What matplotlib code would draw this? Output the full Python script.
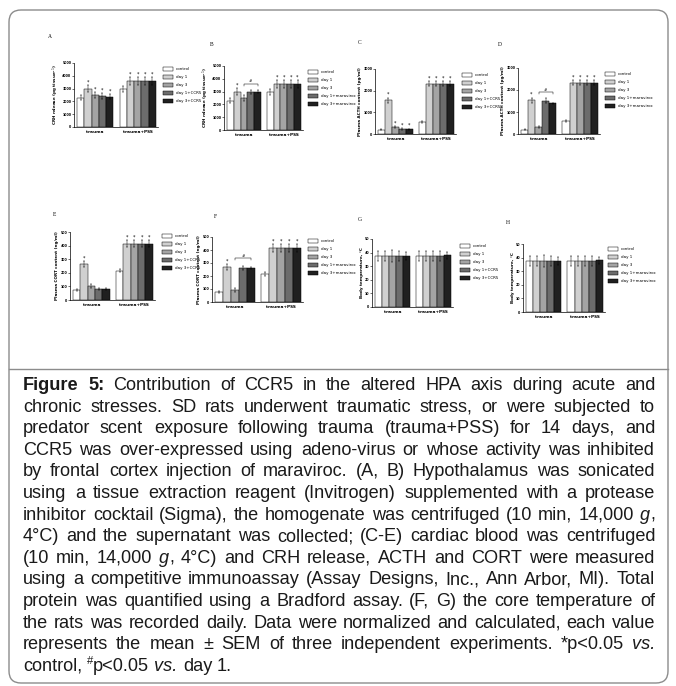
import re
import matplotlib
matplotlib.use('Agg')
import matplotlib.pyplot as plt
from matplotlib.patches import Patch, FancyBboxPatch
from matplotlib.lines import Line2D
from matplotlib.transforms import IdentityTransform

W, H = 676, 686
fig = plt.figure(figsize=(W / 100, H / 100), dpi=100)

groups = ['trauma', 'trauma+PSS']
names_ccr5 = ['control', 'day 1', 'day 3', 'day 1+CCR5', 'day 3+CCR5']
names_mara = ['control', 'day 1', 'day 3', 'day 1+maraviroc', 'day 3+maraviroc']
bar_colors = ['#ffffff', '#d0d0d0', '#a4a4a4', '#6c6c6c', '#202020']

# first five values = trauma, last five = trauma+PSS
crh_a = [2300, 3000, 2500, 2400, 2350, 2950, 3600, 3600, 3600, 3600]
crh_a_err = [220, 300, 220, 220, 200, 230, 280, 300, 280, 280]
crh_b = [2300, 3000, 2500, 3000, 3000, 2950, 3600, 3600, 3600, 3600]
crh_b_err = [220, 300, 220, 150, 130, 230, 280, 300, 280, 280]
acth_c = [200, 1550, 320, 230, 220, 570, 2330, 2330, 2330, 2330]
acth_c_err = [25, 130, 40, 30, 30, 40, 110, 110, 110, 110]
acth_d = [200, 1530, 330, 1520, 1400, 580, 2330, 2330, 2330, 2330]
acth_d_err = [25, 120, 40, 110, 30, 40, 110, 110, 110, 110]
cort_e = [75, 265, 100, 78, 80, 215, 415, 415, 415, 415]
cort_e_err = [8, 22, 15, 8, 6, 12, 28, 28, 28, 28]
cort_f = [75, 270, 95, 262, 265, 215, 415, 415, 415, 415]
cort_f_err = [8, 22, 15, 12, 8, 12, 28, 28, 28, 28]
temp_g = [37.5, 37.5, 37.5, 37.5, 37.5, 37.5, 37.5, 37.5, 37.5, 38]
temp_g_err = [4, 4, 4.5, 3.5, 3, 3.5, 3.5, 3.5, 3.5, 2.5]
temp_h = [37.5, 37.5, 37.5, 37.5, 37.5, 37.5, 37.5, 37.5, 37.5, 38]
temp_h_err = [4, 4, 4.5, 3.5, 3, 3.5, 3.5, 3.5, 3.5, 2.5]

stars_a = [1, 2, 3, 4, 6, 7, 8, 9]
stars_b = [1, 6, 7, 8, 9]
stars_c = [1, 2, 3, 4, 6, 7, 8, 9]
stars_d = [1, 6, 7, 8, 9]
stars_e = [1, 6, 7, 8, 9]
stars_f = [1, 6, 7, 8, 9]

caption = [
    "**Figure 5:** Contribution of CCR5 in the altered HPA axis during acute and",
    "chronic stresses. SD rats underwent traumatic stress, or were subjected to",
    "predator scent exposure following trauma (trauma+PSS) for 14 days, and",
    "CCR5 was over-expressed using adeno-virus or whose activity was inhibited",
    "by frontal cortex injection of maraviroc. (A, B) Hypothalamus was sonicated",
    "using a tissue extraction reagent (Invitrogen) supplemented with a protease",
    "inhibitor cocktail (Sigma), the homogenate was centrifuged (10 min, 14,000 _g_,",
    "4°C) and the supernatant was collected; (C-E) cardiac blood was centrifuged",
    "(10 min, 14,000 _g_, 4°C) and CRH release, ACTH and CORT were measured",
    "using a competitive immunoassay (Assay Designs, Inc., Ann Arbor, MI). Total",
    "protein was quantified using a Bradford assay. (F, G) the core temperature of",
    "the rats was recorded daily. Data were normalized and calculated, each value",
    "represents the mean ± SEM of three independent experiments. *p<0.05 _vs._",
    "control, ^#p<0.05 _vs._ day 1.",
]


def fx(x):
    return x / W


def fy(y):
    return 1 - y / H


def panel(rect, letter, letter_xy, vals, errs, names, ylabel, ymax, ystep,
          stars, legend_xy, bracket=None):
    L, R, T, B = rect
    ax = fig.add_axes([fx(L), fy(B), (R - L) / W, (B - T) / H])
    gap = 0.85
    xs = [g * (5 + gap) + i for g in range(2) for i in range(5)]
    ax.bar(xs, vals, width=1, color=bar_colors * 2, edgecolor='black', linewidth=0.35)
    ax.errorbar(xs, vals, yerr=errs, fmt='none', ecolor='black',
                elinewidth=0.35, capsize=0.9, capthick=0.35)
    for i in stars:
        ax.text(xs[i], vals[i] + errs[i] + ymax * 0.01, '*', ha='center',
                va='bottom', fontsize=3.5)
    if bracket is not None:
        i0, i1, by = bracket
        h = ymax * 0.03
        ax.plot([xs[i0], xs[i0], xs[i1], xs[i1]], [by - h, by, by, by - h],
                color='black', lw=0.35)
        ax.text((xs[i0] + xs[i1]) / 2, by + ymax * 0.01, '#', ha='center',
                va='bottom', fontsize=2.8)
    ax.set_xlim(-0.92, 5 + gap + 4 + 0.8)
    ax.set_ylim(0, ymax)
    ax.set_yticks(range(0, int(ymax) + 1, ystep))
    ax.set_xticks([2, 5 + gap + 2])
    ax.set_xticklabels(groups, fontsize=3.1, fontweight='bold')
    ax.tick_params(axis='x', length=0, pad=2)
    ax.tick_params(axis='y', length=1.3, width=0.4, pad=0.6, labelsize=2.3)
    for lab in ax.get_yticklabels():
        lab.set_fontweight('bold')
    ax.set_ylabel(ylabel, fontsize=3.0, fontweight='bold', labelpad=0.8)
    for s in ['top', 'right']:
        ax.spines[s].set_visible(False)
    for s in ['left', 'bottom']:
        ax.spines[s].set_linewidth(0.5)
    handles = [Patch(facecolor=c, edgecolor='black', linewidth=0.35) for c in bar_colors]
    ax.legend(handles, names, loc='upper left', frameon=False, fontsize=2.9,
              bbox_to_anchor=(fx(legend_xy[0]), fy(legend_xy[1])),
              bbox_transform=fig.transFigure, borderaxespad=0, borderpad=0,
              handlelength=2.6, handleheight=1.1, labelspacing=0.9,
              handletextpad=0.6)
    fig.text(fx(letter_xy[0]), fy(letter_xy[1]), letter, fontsize=4,
             family='Liberation Serif', ha='center', va='center')
    return ax


crh_lab = r'CRH release (pg tissue$^{-1}$)'
acth_lab = 'Plasma ACTH content (pg/ml)'
cort_lab = 'Plasma CORT content (ng/ml)'
temp_lab = 'Body temperature, °C'

panel((74, 158, 63, 127), 'A', (50, 37), crh_a, crh_a_err, names_ccr5, crh_lab,
      5000, 1000, stars_a, (163, 67))
panel((224, 303, 66, 130), 'B', (212, 44), crh_b, crh_b_err, names_mara, crh_lab,
      5000, 1000, stars_b, (308, 70), bracket=(2, 4, 3620))
panel((375, 456, 69, 134), 'C', (360, 43), acth_c, acth_c_err, names_ccr5, acth_lab,
      3000, 1000, stars_c, (462, 73))
panel((518, 600, 68, 134), 'D', (500, 45), acth_d, acth_d_err, names_mara, acth_lab,
      3000, 1000, stars_d, (605, 72), bracket=(2, 4, 1900))
panel((70, 155, 232, 300), 'E', (55, 215), cort_e, cort_e_err, names_ccr5, cort_lab,
      500, 100, stars_e, (162, 234))
panel((212, 303, 237, 302), 'F', (215, 216), cort_f, cort_f_err, names_mara, cort_lab,
      500, 100, stars_f, (308, 239), bracket=(2, 4, 335))
panel((372, 453, 239, 307), 'G', (360, 220), temp_g, temp_g_err, names_ccr5, temp_lab,
      50, 10, [], (460, 244))
panel((523, 605, 244, 312), 'H', (508, 222), temp_h, temp_h_err, names_mara, temp_lab,
      50, 10, [], (608, 247))

# frame and divider
fig.add_artist(FancyBboxPatch((9, H - 683), 659, 673,
                              boxstyle='round,pad=0,rounding_size=12',
                              transform=IdentityTransform(), fill=False,
                              ec='#8c8c8c', lw=1))
fig.add_artist(Line2D([fx(9), fx(668)], [fy(369), fy(369)],
                      transform=fig.transFigure, color='#8c8c8c', lw=1))


# justified caption
def parse(line):
    segs = []
    for part in re.split(r'(\*\*.+?\*\*|_.+?_|\^.)', line):
        if not part:
            continue
        if part.startswith('**') and part.endswith('**') and len(part) > 4:
            segs.append((part[2:-2], 'bold'))
        elif part.startswith('_') and part.endswith('_') and len(part) > 2:
            segs.append((part[1:-1], 'italic'))
        elif part.startswith('^') and len(part) == 2:
            segs.append((part[1], 'sup'))
        else:
            segs.append((part, 'normal'))
    words, cur = [], []
    for text, st in segs:
        for k, p in enumerate(text.split(' ')):
            if k > 0 and cur:
                words.append(cur)
                cur = []
            if p:
                cur.append((p, st))
    if cur:
        words.append(cur)
    return words


def make_seg(text, st, fs):
    kw = dict(fontsize=fs, family='Liberation Sans', va='baseline', ha='left',
              color='#1a1a1a')
    if st == 'bold':
        kw['weight'] = 'bold'
    if st == 'italic':
        kw['style'] = 'italic'
    if st == 'sup':
        kw['fontsize'] = fs * 0.62
    return fig.text(0, 0, text, **kw)


renderer = fig.canvas.get_renderer()
x_left, x_right = 23, 655
base0, step = 390, 21.6


def measure(fs):
    t1 = make_seg('a a', 'normal', fs)
    t2 = make_seg('aa', 'normal', fs)
    sp = t1.get_window_extent(renderer).width - t2.get_window_extent(renderer).width
    t1.remove()
    t2.remove()
    rows = []
    for line in caption:
        items = []
        for w in parse(line):
            segs = []
            for text, st in w:
                t = make_seg(text, st, fs)
                segs.append((t, st, t.get_window_extent(renderer).width))
            items.append(segs)
        rows.append(items)
    return sp, rows


# pick the size at which the widest line just fills the column
sp0, rows0 = measure(10)
widest = max(sum(s[2] for segs in items for s in segs) + sp0 * (len(items) - 1)
             for items in rows0[:-1])
for items in rows0:
    for segs in items:
        for t, _, _ in segs:
            t.remove()
FS = 10 * (x_right - x_left) / widest * 0.99

space_w, rows = measure(FS)
for li, items in enumerate(rows):
    widths = [sum(s[2] for s in segs) for segs in items]
    if li == len(rows) - 1:
        gap = space_w
    else:
        gap = (x_right - x_left - sum(widths)) / (len(items) - 1)
    x = x_left
    yb = base0 + li * step
    for segs, wd in zip(items, widths):
        cx = x
        for t, st, sw in segs:
            yy = yb - (FS * 0.38 * 100 / 72 if st == 'sup' else 0)
            t.set_position((fx(round(cx)), fy(yy)))
            cx += sw
        x += wd + gap

fig.savefig('out.png', dpi=100)
